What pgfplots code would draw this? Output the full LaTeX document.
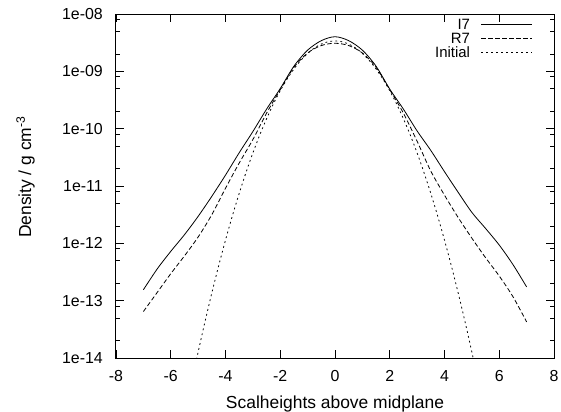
\documentclass[border=0pt]{standalone}
\usepackage{pgfplots}
\pgfplotsset{compat=1.18}
\usepackage{fontspec}
\setmainfont{Liberation Sans}
\begin{document}
\begin{tikzpicture}
\begin{axis}[
  name=ax,
  at={(0,0)}, anchor=south west,
  scale only axis,
  width=438bp, height=344bp,
  xmin=-8, xmax=8,
  ymode=log, ymin=1e-14, ymax=1e-8,
  axis line style={line width=1bp},
  xtick={-8,-6,-4,-2,0,2,4,6,8},
  xticklabels={-8,-6,-4,-2,0,2,4,6,8},
  ytick={1e-14,1e-13,1e-12,1e-11,1e-10,1e-9,1e-8},
  yticklabels={1e-14,1e-13,1e-12,1e-11,1e-10,1e-09,1e-08},
  minor ytick={2e-14,5e-14,8.1e-14,2e-13,5e-13,8.1e-13,2e-12,5e-12,8.1e-12,2e-11,5e-11,8.1e-11,2e-10,5e-10,8.1e-10,2e-9,5e-9,8.1e-9},
  tick align=inside,
  major tick length=8bp, minor tick length=4bp,
  every tick/.style={black, line width=0.8bp},
  xticklabel style={inner sep=0pt, anchor=north, yshift=-12.5bp, font=\fontsize{16}{16}\selectfont},
  yticklabel style={inner sep=0pt, anchor=east, xshift=-13bp, font=\fontsize{16}{16}\selectfont},
  xlabel={Scalheights above midplane},
  ylabel={Density / g cm\textsuperscript{-3}},
  xlabel style={at={(axis description cs:0.5,0)}, anchor=base, yshift=-50.3bp, inner sep=0pt, font=\fontsize{17.5}{17.5}\selectfont},
  ylabel style={at={(axis description cs:-0.194,0.526)}, anchor=base, inner sep=0pt, font=\fontsize{17.5}{17.5}\selectfont},
  legend plot pos=right,
  legend cell align=right,
  legend image code/.code={\draw[#1] (0bp,0bp) -- (51bp,0bp);},
  legend style={draw=none, fill=none, at={(rel axis cs:1,1)}, anchor=north east,
    xshift=-21bp, yshift=-4.5bp, inner sep=0pt, row sep=2.4bp, column sep=11bp,
    font=\fontsize{15}{15}\selectfont,
    nodes={inner sep=0pt, text height=10.4bp, text depth=1.2bp}},
]
\addplot[black, line width=0.8bp, smooth] coordinates {
(-7.0,1.549e-13) (-6.5,3.548e-13) (-6.0,7.24e-13) (-5.5,1.413e-12) (-5.0,2.951e-12)
(-4.5,6.61e-12) (-4.0,1.549e-11) (-3.5,3.80e-11) (-3.0,8.91e-11) (-2.5,2.188e-10)
(-2.0,5.01e-10) (-1.5,1.23e-9) (-1.0,2.344e-9) (-0.5,3.43e-9) (0,4.018e-9)
(0.5,3.43e-9) (1.0,2.344e-9) (1.5,1.23e-9) (2.0,4.90e-10) (2.5,2.188e-10)
(3.0,9.12e-11) (3.5,4.17e-11) (4.0,1.778e-11) (4.5,7.76e-12) (5.0,3.467e-12)
(5.5,1.820e-12) (6.0,9.33e-13) (6.5,4.27e-13) (7.0,1.738e-13)
};
\addlegendentry{I7}
\addplot[black, line width=0.8bp, smooth, dash pattern=on 4.5bp off 2.5bp] coordinates {
(-7.0,6.46e-14) (-6.5,1.380e-13) (-6.0,2.951e-13) (-5.5,6.03e-13) (-5.0,1.288e-12)
(-4.5,3.16e-12) (-4.0,9.12e-12) (-3.5,2.512e-11) (-3.0,6.46e-11) (-2.5,1.862e-10)
(-2.0,4.79e-10) (-1.5,1.175e-9) (-1.0,2.089e-9) (-0.5,2.818e-9) (0,3.09e-9)
(0.5,2.818e-9) (1.0,2.089e-9) (1.5,1.175e-9) (2.0,4.79e-10) (2.5,1.862e-10)
(3.0,6.03e-11) (3.5,1.820e-11) (4.0,6.92e-12) (4.5,2.818e-12) (5.0,1.230e-12)
(5.5,5.62e-13) (6.0,2.692e-13) (6.5,1.175e-13) (7.0,4.27e-14)
};
\addlegendentry{R7}
\addplot[black, line width=0.8bp, smooth, dash pattern=on 1.8bp off 3.2bp] coordinates {
(-5.25,3.52e-15) (-5.0,1.266e-14) (-4.75,4.28e-14) (-4.5,1.36e-13) (-4.25,4.06e-13)
(-4.0,1.138e-12) (-3.75,3.00e-12) (-3.5,7.42e-12) (-3.25,1.725e-11) (-3.0,3.77e-11)
(-2.75,7.73e-11) (-2.5,1.489e-10) (-2.25,2.70e-10) (-2.0,4.59e-10) (-1.75,7.33e-10)
(-1.5,1.100e-9) (-1.25,1.551e-9) (-1.0,2.056e-9) (-0.75,2.557e-9) (-0.5,2.990e-9)
(-0.25,3.283e-9) (0,3.388e-9) (0.25,3.283e-9) (0.5,2.990e-9) (0.75,2.557e-9)
(1.0,2.056e-9) (1.25,1.551e-9) (1.5,1.100e-9) (1.75,7.33e-10) (2.0,4.59e-10)
(2.25,2.70e-10) (2.5,1.489e-10) (2.75,7.73e-11) (3.0,3.77e-11) (3.25,1.725e-11)
(3.5,7.42e-12) (3.75,3.00e-12) (4.0,1.138e-12) (4.25,4.06e-13) (4.5,1.36e-13)
(4.75,4.28e-14) (5.0,1.266e-14) (5.25,3.52e-15)
};
\addlegendentry{Initial}
\end{axis}
\pgfresetboundingbox
\path ([shift={(-116bp,-54bp)}]ax.south west) rectangle ([shift={(7bp,14bp)}]ax.north east);
\end{tikzpicture}
\end{document}
